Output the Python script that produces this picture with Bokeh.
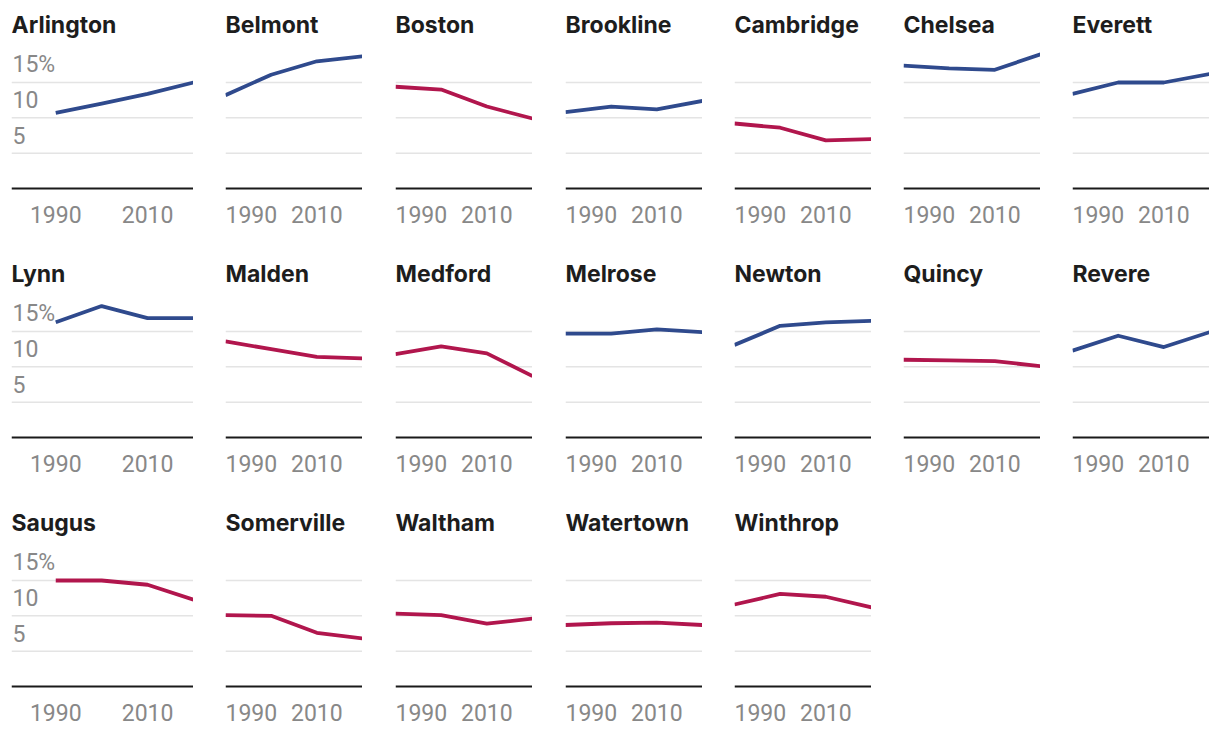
from bokeh.plotting import figure
from bokeh.layouts import column, row
from bokeh.models import Span, Range1d
from bokeh.core.properties import value
from bokeh.embed import file_html
from bokeh.resources import INLINE

# ---------------- data ----------------
years = [1990, 2000, 2010, 2020]
x_tick_years = [1990, 2010]
x_tick_labels = ["1990", "2010"]
y_ticks = [5, 10, 15]
y_tick_labels = ["5", "10", "15%"]

cities = ["Arlington", "Belmont", "Boston", "Brookline", "Cambridge", "Chelsea", "Everett",
          "Lynn", "Malden", "Medford", "Melrose", "Newton", "Quincy", "Revere",
          "Saugus", "Somerville", "Waltham", "Watertown", "Winthrop"]

arlington = [10.7, 12.0, 13.4, 15.0]
belmont = [13.2, 16.1, 18.0, 18.7]
boston = [14.4, 14.0, 11.6, 9.9]
brookline = [10.8, 11.6, 11.2, 12.4]
cambridge = [9.2, 8.6, 6.8, 7.0]
chelsea = [17.4, 17.0, 16.8, 19.0]
everett = [13.4, 15.0, 15.0, 16.2]
lynn = [16.3, 18.6, 16.9, 16.9]
malden = [13.6, 12.5, 11.4, 11.2]
medford = [11.8, 12.9, 11.9, 8.7]
melrose = [14.7, 14.7, 15.3, 14.9]
newton = [13.1, 15.8, 16.3, 16.5]
quincy = [11.0, 10.9, 10.8, 10.1]
revere = [12.3, 14.4, 12.8, 14.9]
saugus = [15.0, 15.0, 14.4, 12.3]
somerville = [10.1, 10.0, 7.6, 6.8]
waltham = [10.3, 10.1, 8.9, 9.6]
watertown = [8.7, 8.95, 9.05, 8.7]
winthrop = [11.6, 13.1, 12.7, 11.2]

series = [arlington, belmont, boston, brookline, cambridge, chelsea, everett,
          lynn, malden, medford, melrose, newton, quincy, revere,
          saugus, somerville, waltham, watertown, winthrop]

# ---------------- style / layout ----------------
BLUE = "#2f4a8d"
RED = "#b1164d"
GRID = "#e4e4e4"
AXIS = "#1a1a1a"
LABEL = "#888888"
TITLE = "#1d1d1d"
LABEL_FONT = "Roboto"
TITLE_FONT = "Inter"

NCOLS = 7
PX_PER_UNIT = 7.067
FRAME_W = 137
LABEL_SPACE = 44            # extra room for y labels in first column
ROW_HEIGHTS = [257, 249, 230]
ROW_ZERO = [188, 180, 180]  # px from figure top to the zero line
LEFT_BORDERS = [11, 32, 33, 33, 32, 32, 32]
TEXT_FIX = -8               # rendering correction for text baseline
TITLE_OFF = -156 + TEXT_FIX
XLAB_OFF = 34 + TEXT_FIX
YLAB_OFF = -10 + TEXT_FIX


def make_panel(name, vals, c, r):
    h = ROW_HEIGHTS[r]
    zero = ROW_ZERO[r]
    first = c == 0
    px_per_year = FRAME_W / (years[-1] - years[0])
    x0 = years[0] - (LABEL_SPACE / px_per_year if first else 0)
    fw = FRAME_W + (LABEL_SPACE + 1 if first else 0)
    y_end = zero / PX_PER_UNIT
    y_start = -(h - zero) / PX_PER_UNIT
    p = figure(width=fw + LEFT_BORDERS[c], height=h,
               x_range=Range1d(x0, years[-1]), y_range=Range1d(y_start, y_end),
               x_axis_type=None, y_axis_type=None,
               output_backend="svg", toolbar_location=None,
               min_border=0, min_border_left=LEFT_BORDERS[c])
    p.outline_line_color = None
    p.background_fill_color = "white"
    p.border_fill_color = "white"

    for t in y_ticks:
        p.add_layout(Span(location=t, dimension="width", line_color=GRID,
                          line_width=1.5, level="underlay"))
    p.add_layout(Span(location=0, dimension="width", line_color=AXIS,
                      line_width=2, level="underlay"))

    color = BLUE if vals[-1] > vals[0] else RED
    p.line(years, vals, line_color=color, line_width=3.8, line_join="round")

    # title
    p.text(x=[x0], y=[0], text=[name], x_offset=0 if first else 0, y_offset=TITLE_OFF,
           text_font=value(TITLE_FONT), text_font_style="bold", text_font_size="23px",
           text_color=TITLE, text_baseline="alphabetic", text_align="left")

    # x tick labels
    for yr, lab in zip(x_tick_years, x_tick_labels):
        align = "left" if (not first and yr == years[0]) else "center"
        p.text(x=[yr], y=[0], text=[lab], y_offset=XLAB_OFF,
               text_font=value(LABEL_FONT), text_font_size="23px", text_color=LABEL,
               text_baseline="alphabetic", text_align=align)

    # y tick labels
    if first:
        p.text(x=[x0] * len(y_ticks), y=y_ticks, text=y_tick_labels, x_offset=1,
               y_offset=YLAB_OFF, text_font=value(LABEL_FONT), text_font_size="23px",
               text_color=LABEL, text_baseline="alphabetic", text_align="left")
    return p


rows = []
for r in range(3):
    figs = []
    for c in range(NCOLS):
        i = r * NCOLS + c
        if i >= len(cities):
            break
        figs.append(make_panel(cities[i], series[i], c, r))
    rows.append(row(*figs))

layout = column(*rows)
open("out.html", "w").write(file_html(layout, INLINE))
